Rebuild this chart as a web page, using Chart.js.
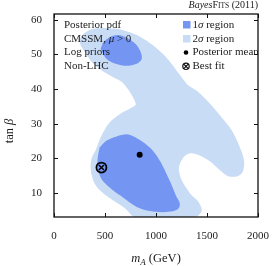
<!DOCTYPE html>
<html>
<head>
<meta charset="utf-8">
<script src="https://cdn.jsdelivr.net/npm/chart.js@4.4.0/dist/chart.umd.min.js"></script>
<style>
  html, body { margin: 0; padding: 0; background: #fff; }
</style>
</head>
<body>
<canvas id="chart" width="272" height="266"></canvas>
<script>
// Axis ticks
const xTicks = [0, 500, 1000, 1500, 2000];
const yTicks = [10, 20, 30, 40, 50, 60];

// 2 sigma contour (outer, light blue)
const region2Sigma = [
  {x: 251, y: 54.4}, {x: 300, y: 56.2}, {x: 369, y: 57.3}, {x: 447, y: 57.6},
  {x: 545, y: 57.6}, {x: 644, y: 57.3}, {x: 742, y: 56.4}, {x: 840, y: 55.2},
  {x: 968, y: 52.7}, {x: 1106, y: 49.0}, {x: 1233, y: 44.1}, {x: 1312, y: 41.2},
  {x: 1401, y: 39.5}, {x: 1528, y: 35.8}, {x: 1646, y: 31.7}, {x: 1744, y: 28.0},
  {x: 1823, y: 23.1}, {x: 1863, y: 19.4}, {x: 1853, y: 16.2}, {x: 1803, y: 14.8},
  {x: 1705, y: 14.8}, {x: 1627, y: 16.5}, {x: 1528, y: 19.1}, {x: 1430, y: 20.8},
  {x: 1332, y: 21.4}, {x: 1263, y: 20.0}, {x: 1224, y: 17.1}, {x: 1253, y: 13.6},
  {x: 1332, y: 9.9}, {x: 1410, y: 7.6}, {x: 1450, y: 5.0}, {x: 1410, y: 3.3},
  {x: 1332, y: 2.6}, {x: 811, y: 2.6}, {x: 693, y: 5.6}, {x: 545, y: 8.5},
  {x: 447, y: 10.8}, {x: 388, y: 13.3}, {x: 359, y: 17.1}, {x: 369, y: 20.0},
  {x: 408, y: 22.3}, {x: 457, y: 26.0}, {x: 535, y: 30.0}, {x: 654, y: 32.9},
  {x: 742, y: 34.3}, {x: 801, y: 35.5}, {x: 771, y: 37.8}, {x: 722, y: 40.1},
  {x: 663, y: 42.1}, {x: 575, y: 43.5}, {x: 477, y: 45.2}, {x: 378, y: 47.5},
  {x: 310, y: 50.4}, {x: 260, y: 52.7}, {x: 251, y: 54.4}
];

// 1 sigma contours (dark blue)
const region1SigmaLow = [
  {x: 447, y: 23.1}, {x: 516, y: 25.1}, {x: 614, y: 26.3}, {x: 713, y: 26.9},
  {x: 781, y: 26.3}, {x: 850, y: 25.1}, {x: 939, y: 23.1}, {x: 998, y: 21.1},
  {x: 1047, y: 18.8}, {x: 1096, y: 15.9}, {x: 1145, y: 12.8}, {x: 1194, y: 9.3},
  {x: 1233, y: 7.0}, {x: 1224, y: 5.6}, {x: 1174, y: 4.7}, {x: 1066, y: 4.4},
  {x: 939, y: 4.7}, {x: 811, y: 5.9}, {x: 683, y: 8.5}, {x: 565, y: 11.0},
  {x: 467, y: 13.9}, {x: 428, y: 17.1}, {x: 428, y: 20.0}, {x: 447, y: 23.1}
];
const region1SigmaHigh = [
  {x: 457, y: 51.6}, {x: 486, y: 53.6}, {x: 545, y: 55.0}, {x: 624, y: 55.6},
  {x: 722, y: 54.7}, {x: 801, y: 53.0}, {x: 850, y: 50.7}, {x: 860, y: 48.7},
  {x: 811, y: 47.3}, {x: 713, y: 46.7}, {x: 604, y: 47.3}, {x: 516, y: 48.7},
  {x: 457, y: 51.6}
];

const posteriorMean = [{x: 840, y: 21.0}];
const bestFit = [{x: 465, y: 17.3}];

// Texts
const infoLines = ['Posterior pdf', 'CMSSM, μ > 0', 'Log priors', 'Non-LHC'];
const legendLabels = ['1σ region', '2σ region', 'Posterior mean', 'Best fit'];
const xTitle = ['m', 'A', ' (GeV)'];
const yTitle = 'tan β';

const COL_1S = 'rgb(116, 150, 242)';
const COL_2S = 'rgb(201, 220, 245)';
const SERIF = '"Liberation Serif", "DejaVu Serif", serif';

// draw text, greek letters in italic
function richText(ctx, str, x, y, size) {
  let cx = x;
  for (const ch of str) {
    const greek = /[\u0370-\u03FF]/.test(ch);
    ctx.font = (greek ? 'italic ' : '') + size + 'px ' + SERIF;
    ctx.fillText(ch, cx, y);
    cx += ctx.measureText(ch).width;
  }
  return cx;
}

const decorPlugin = {
  id: 'decor',
  afterDatasetsDraw(chart) {
    const {ctx, chartArea: a, scales: {x, y}} = chart;
    ctx.save();
    ctx.strokeStyle = '#111';
    ctx.lineWidth = 1.3;
    ctx.strokeRect(a.left, a.top, a.right - a.left, a.bottom - a.top);

    ctx.lineWidth = 1;
    ctx.beginPath();
    xTicks.forEach(v => {
      const px = Math.round(x.getPixelForValue(v)) + 0.5;
      ctx.moveTo(px, a.bottom); ctx.lineTo(px, a.bottom - 4);
      ctx.moveTo(px, a.top); ctx.lineTo(px, a.top + 4);
    });
    yTicks.forEach(v => {
      const py = Math.round(y.getPixelForValue(v)) + 0.5;
      ctx.moveTo(a.left, py); ctx.lineTo(a.left + 4, py);
      ctx.moveTo(a.right, py); ctx.lineTo(a.right - 4, py);
    });
    ctx.stroke();

    ctx.fillStyle = '#1a1a1a';
    ctx.textBaseline = 'middle';
    ctx.textAlign = 'left';
    infoLines.forEach((t, i) => richText(ctx, t, a.left + 10, a.top + 11 + i * 13.8, 11));

    // legend
    const lx = a.left + 129;
    ctx.fillStyle = COL_1S;
    ctx.fillRect(lx, a.top + 7, 7.5, 7.5);
    ctx.fillStyle = COL_2S;
    ctx.fillRect(lx, a.top + 21, 7.5, 7.5);
    ctx.fillStyle = '#000';
    ctx.beginPath();
    ctx.arc(lx + 3, a.top + 38.5, 2.3, 0, Math.PI * 2);
    ctx.fill();
    ctx.lineWidth = 1.2;
    ctx.beginPath();
    ctx.arc(lx + 3, a.top + 52.3, 3.2, 0, Math.PI * 2);
    ctx.moveTo(lx + 1, a.top + 50.3); ctx.lineTo(lx + 5, a.top + 54.3);
    ctx.moveTo(lx + 5, a.top + 50.3); ctx.lineTo(lx + 1, a.top + 54.3);
    ctx.stroke();
    ctx.fillStyle = '#1a1a1a';
    legendLabels.forEach((t, i) => richText(ctx, t, lx + 9.5, a.top + 11 + i * 13.8, 11));

    // title, right aligned above frame
    const parts = [['Bayes', 'italic 10px'], ['F', '10px'], ['ITS', '7.5px'], [' (2011)', '10px']];
    let w = 0;
    parts.forEach(p => { ctx.font = p[1] + ' ' + SERIF; w += ctx.measureText(p[0]).width; });
    let tx = a.right - w;
    ctx.textBaseline = 'alphabetic';
    parts.forEach(p => { ctx.font = p[1] + ' ' + SERIF; ctx.fillText(p[0], tx, 8); tx += ctx.measureText(p[0]).width; });

    // x title
    ctx.font = 'italic 12.5px ' + SERIF;
    const w0 = ctx.measureText(xTitle[0]).width;
    ctx.font = 'italic 9px ' + SERIF;
    const w1 = ctx.measureText(xTitle[1]).width;
    ctx.font = '12.5px ' + SERIF;
    const w2 = ctx.measureText(xTitle[2]).width;
    let sx = (a.left + a.right) / 2 - (w0 + w1 + w2) / 2;
    ctx.font = 'italic 12.5px ' + SERIF;
    ctx.fillText(xTitle[0], sx, 262);
    ctx.font = 'italic 9px ' + SERIF;
    ctx.fillText(xTitle[1], sx + w0, 265);
    ctx.font = '12.5px ' + SERIF;
    ctx.fillText(xTitle[2], sx + w0 + w1, 262);

    // y title
    ctx.translate(13, 131);
    ctx.rotate(-Math.PI / 2);
    let yw = 0;
    for (const ch of yTitle) {
      ctx.font = (/[\u0370-\u03FF]/.test(ch) ? 'italic ' : '') + '12.5px ' + SERIF;
      yw += ctx.measureText(ch).width;
    }
    richText(ctx, yTitle, -yw / 2, 0, 12.5);
    ctx.restore();
  }
};

const ctx = document.getElementById('chart').getContext('2d');
new Chart(ctx, {
  type: 'scatter',
  data: {
    datasets: [
      { label: '2σ region', data: region2Sigma, showLine: true, fill: 'shape', backgroundColor: COL_2S, borderWidth: 0, pointRadius: 0, tension: 0.3, order: 3 },
      { label: '1σ region', data: region1SigmaLow, showLine: true, fill: 'shape', backgroundColor: COL_1S, borderWidth: 0, pointRadius: 0, tension: 0.3, order: 2 },
      { label: '1σ region (high)', data: region1SigmaHigh, showLine: true, fill: 'shape', backgroundColor: COL_1S, borderWidth: 0, pointRadius: 0, tension: 0.3, order: 2 },
      { label: 'Posterior mean', data: posteriorMean, pointRadius: 3, backgroundColor: '#000', borderWidth: 0, order: 1 },
      { label: 'Best fit', data: bestFit, pointRadius: 5, pointStyle: 'circle', backgroundColor: 'rgba(0,0,0,0)', borderColor: '#000', borderWidth: 1.8, order: 1 },
      { label: 'Best fit x', data: bestFit, pointRadius: 3.6, pointStyle: 'crossRot', borderColor: '#000', borderWidth: 1.5, order: 1 }
    ]
  },
  options: {
    responsive: false,
    animation: false,
    devicePixelRatio: 1,
    layout: { padding: { left: 0, top: 14, right: 14, bottom: 0 } },
    plugins: { legend: { display: false }, tooltip: { enabled: false } },
    scales: {
      x: {
        type: 'linear', min: 0, max: 2000,
        grid: { display: false, drawTicks: false },
        border: { display: false },
        ticks: { stepSize: 500, padding: 13, color: '#222', font: { family: SERIF, size: 11 }, maxRotation: 0, callback: v => String(v) },
        afterFit: s => { s.height = 49; s.paddingLeft = 0; s.paddingRight = 0; }
      },
      y: {
        type: 'linear', min: 3, max: 61.7,
        grid: { display: false, drawTicks: false },
        border: { display: false },
        ticks: { stepSize: 10, padding: 12, color: '#222', font: { family: SERIF, size: 11 }, callback: v => String(v) },
        afterBuildTicks: s => { s.ticks = yTicks.map(v => ({ value: v })); },
        afterFit: s => { s.width = 54; s.paddingTop = 0; s.paddingBottom = 0; }
      }
    }
  },
  plugins: [decorPlugin]
});
</script>
</body>
</html>
